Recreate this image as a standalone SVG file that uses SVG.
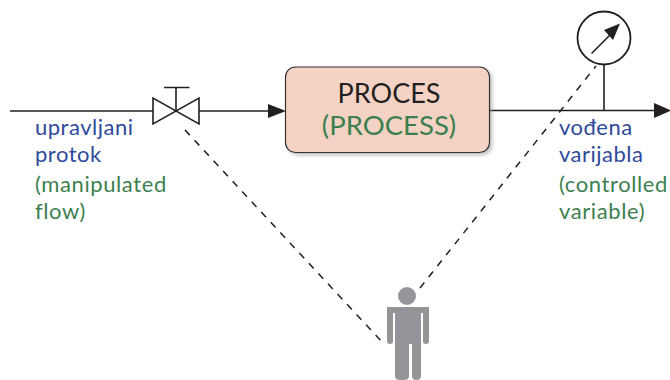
<svg xmlns="http://www.w3.org/2000/svg" width="670" height="380" viewBox="0 0 670 380">
<defs>
<style>
.l{fill:none;stroke:#231f20;stroke-width:1.6}
.d{fill:none;stroke:#231f20;stroke-width:1.5;stroke-dasharray:7 7}
.h{fill:#231f20}
text{font-family:"Lato","Open Sans",sans-serif}
.b{fill:#2f4a9a;font-size:22px;letter-spacing:.5px}
.g{fill:#3d8050;font-size:22px;letter-spacing:.6px}
</style>
<filter id="s" x="-5%" y="-10%" width="112%" height="125%"><feGaussianBlur stdDeviation="2"/></filter>
</defs>
<rect width="670" height="380" fill="#fff"/>
<g id="connectors">
<path class="l" d="M10 111H153"/>
<path class="l" d="M199 111H270"/>
<path class="h" d="M268 104L286 111L268 118Z"/>
<path class="l" d="M490 110.500H656"/>
<path class="h" d="M654 103L671 110.500L654 118Z"/>
<path class="l" d="M604 65V110"/>
<path class="d" d="M185 130L383 343"/>
<path class="d" d="M420 288L596 66"/>
</g>
<g id="valve">
<path class="l" d="M153 98V124L199 98V124Z"/>
<path class="l" d="M176 111V87.500M164 87.500H189.500"/>
</g>
<g id="process">
<rect x="288" y="69" width="204" height="86" rx="10" fill="#888" opacity=".6" filter="url(#s)"/>
<rect x="285.500" y="67" width="204" height="85.500" rx="10" fill="#f5d3c4" stroke="#333" stroke-width="1.200"/>
<text x="389" y="102.500" text-anchor="middle" font-size="27" fill="#231f20">PROCES</text>
<text x="389" y="134.500" text-anchor="middle" font-size="27.500" fill="#3d8050">(PROCESS)</text>
</g>
<g id="gauge">
<circle cx="604" cy="38" r="26.500" fill="#fff" stroke="#231f20" stroke-width="1.800"/>
<path class="l" d="M591.500 53.500L612 33"/>
<path class="h" d="M620 23.500L613 40L604 30Z"/>
</g>
<g id="operator" fill="#939598">
<circle cx="407" cy="296" r="9"/>
<path d="M387 307H429V341Q429 344 426 344Q423 344 423 341V313H421V376Q421 380 416.500 380Q412 380 412 376V344H409V376Q409 380 404 380H400Q395 380 395 376V313H393V341Q393 344 390 344Q387 344 387 341Z"/>
</g>
<g id="label-manipulated">
<text class="b" x="35" y="135">upravljani</text>
<text class="b" x="35" y="162">protok</text>
<text class="g" x="35" y="192">(manipulated</text>
<text class="g" x="35" y="219">flow)</text>
</g>
<g id="label-controlled">
<text class="b" x="559" y="135">vođena</text>
<text class="b" x="559" y="162">varijabla</text>
<text class="g" x="559" y="192">(controlled</text>
<text class="g" x="559" y="219">variable)</text>
</g>
</svg>
